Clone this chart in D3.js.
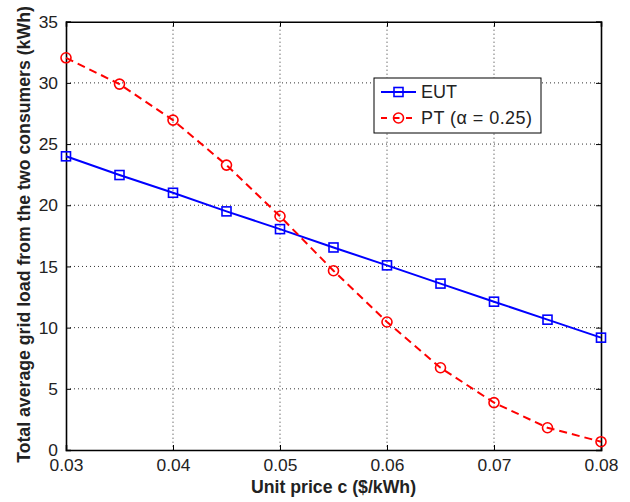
<!DOCTYPE html>
<html><head><meta charset="utf-8">
<script src="https://cdn.jsdelivr.net/npm/d3@7"></script>
<style>body{margin:0;background:#fff}svg{display:block}text{font-family:"Liberation Sans",Arial,Helvetica,sans-serif}</style>
</head><body><svg id="c" width="630" height="502"></svg>
<script>
const prices = [0.03,0.035,0.04,0.045,0.05,0.055,0.06,0.065,0.07,0.075,0.08];
const eut = [24,22.47,21.02,19.5,18.05,16.55,15.09,13.6,12.12,10.65,9.18];
const pt = [32.05,29.9,26.96,23.28,19.1,14.65,10.46,6.72,3.87,1.82,0.68];
const xTicks = [0.03,0.04,0.05,0.06,0.07,0.08];
const yTicks = [0,5,10,15,20,25,30,35];
const seriesNames = ["EUT","PT (α = 0.25)"];

const svg = d3.select("#c");
const L=66,R=601,T=21.7,B=450;
const x = d3.scaleLinear().domain([0.03,0.08]).range([L,R]);
const y = d3.scaleLinear().domain([0,35]).range([B,T]);

// grid
const g = svg.append("g");
g.selectAll(".gx").data(xTicks.slice(1,-1)).enter().append("line")
 .attr("x1",d=>x(d)).attr("x2",d=>x(d)).attr("y1",T).attr("y2",B)
 .attr("stroke","#333").attr("stroke-width",1).attr("stroke-dasharray","1,3");
g.selectAll(".gy").data(yTicks.slice(1,-1)).enter().append("line")
 .attr("y1",d=>y(d)).attr("y2",d=>y(d)).attr("x1",L).attr("x2",R)
 .attr("stroke","#333").attr("stroke-width",1).attr("stroke-dasharray","1,3");

// axes
const fs = "17.4px";
const xb = svg.append("g").attr("transform",`translate(0,${B})`).call(d3.axisBottom(x).tickValues(xTicks).tickSize(-5).tickPadding(9).tickFormat(d3.format(".2f")));
const xt = svg.append("g").attr("transform",`translate(0,${T})`).call(d3.axisTop(x).tickValues(xTicks).tickSize(-5).tickFormat(""));
const yl = svg.append("g").attr("transform",`translate(${L},0)`).call(d3.axisLeft(y).tickValues(yTicks).tickSize(-5).tickPadding(8).tickFormat(d3.format("d")));
const yr = svg.append("g").attr("transform",`translate(${R},0)`).call(d3.axisRight(y).tickValues(yTicks).tickSize(-5).tickFormat(""));
[xb,xt,yl,yr].forEach(a=>{
  a.selectAll("path").attr("stroke","#000").attr("stroke-width",1.6);
  a.selectAll("line").attr("stroke","#000").attr("stroke-width",1);
  a.selectAll("text").attr("fill","#222").style("font-size",fs).style("font-family","Liberation Sans, Arial, sans-serif");
});
xb.selectAll("text").attr("dy","0.71em");

// lines
const line = d3.line().x((d,i)=>x(prices[i])).y(d=>y(d));
svg.append("path").datum(eut).attr("d",line).attr("fill","none").attr("stroke","#0000ff").attr("stroke-width",2);
svg.append("path").datum(pt).attr("d",line).attr("fill","none").attr("stroke","#ff0000").attr("stroke-width",2).attr("stroke-dasharray","8,5");
svg.selectAll(".sq").data(eut).enter().append("rect")
 .attr("x",(d,i)=>x(prices[i])-4.5).attr("y",d=>y(d)-4.5).attr("width",9).attr("height",9)
 .attr("fill","none").attr("stroke","#0000ff").attr("stroke-width",1.6);
svg.selectAll(".ci").data(pt).enter().append("circle")
 .attr("cx",(d,i)=>x(prices[i])).attr("cy",d=>y(d)).attr("r",5)
 .attr("fill","none").attr("stroke","#ff0000").attr("stroke-width",1.6);

// legend
const lg = svg.append("g");
lg.append("rect").attr("x",374).attr("y",78).attr("width",167).attr("height",55).attr("fill","#fff").attr("stroke","#000").attr("stroke-width",1);
lg.append("line").attr("x1",381).attr("x2",416).attr("y1",92).attr("y2",92).attr("stroke","#0000ff").attr("stroke-width",2);
lg.append("rect").attr("x",398.5-4.5).attr("y",92-4.5).attr("width",9).attr("height",9).attr("fill","none").attr("stroke","#0000ff").attr("stroke-width",1.6);
lg.append("line").attr("x1",381).attr("x2",416).attr("y1",118).attr("y2",118).attr("stroke","#ff0000").attr("stroke-width",2).attr("stroke-dasharray","6,6.5");
lg.append("circle").attr("cx",398.5).attr("cy",118).attr("r",5).attr("fill","none").attr("stroke","#ff0000").attr("stroke-width",1.6);
lg.selectAll(".lt").data(seriesNames).enter().append("text")
 .attr("x",421).attr("y",(d,i)=>[92,118][i]).attr("dy","0.36em").style("font-size","18px").attr("fill","#222")
 .attr("textLength",(d,i)=>i===1?111:null).attr("lengthAdjust","spacing").text(d=>d);

// axis titles
svg.append("text").attr("x",333.5).attr("y",493).attr("text-anchor","middle").style("font-size","17.7px").style("font-weight","bold").attr("fill","#222").text("Unit price c ($/kWh)");
svg.append("text").attr("transform","translate(29.5,234.5) rotate(-90)").attr("text-anchor","middle").style("font-size","17.7px").style("font-weight","bold").attr("fill","#222").text("Total average grid load from the two consumers (kWh)");
</script></body></html>
